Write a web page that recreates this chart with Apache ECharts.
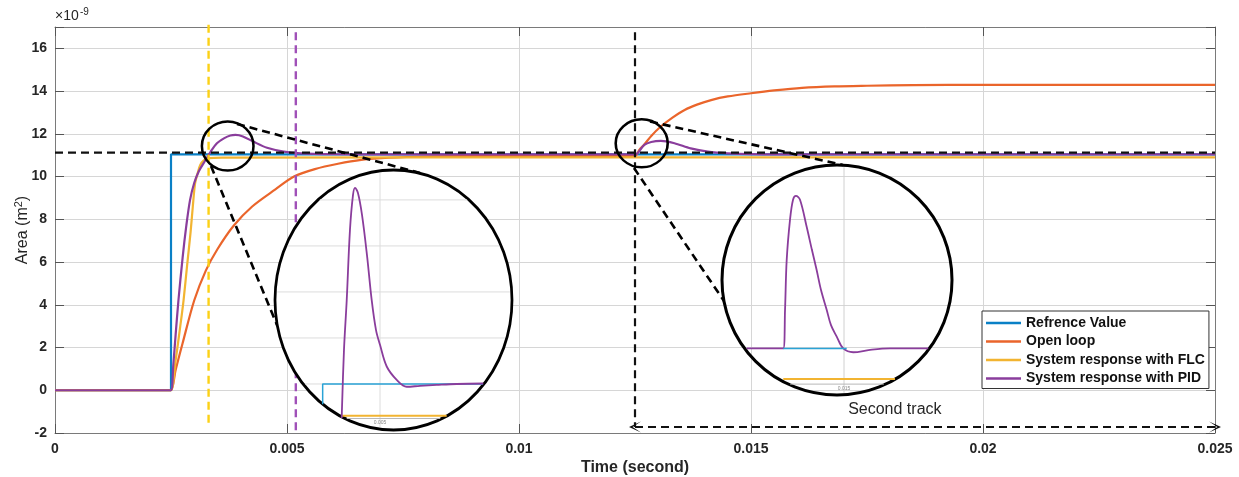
<!DOCTYPE html>
<html>
<head>
    <meta charset="utf-8">
    <title>Area response</title>
    <script src="https://cdn.jsdelivr.net/npm/echarts@6/dist/echarts.min.js"></script>
</head>
<body style="margin:0">
    <div id="main" style="width:1239px;height:477px;"></div>
    <script type="text/javascript">
        // tick values of the main axes (area in 1e-9 m^2, time in s)
        var xTicks = [0, 0.005, 0.01, 0.015, 0.02, 0.025]
        var xTickLabels = ["0", "0.005", "0.01", "0.015", "0.02", "0.025"]
        var yTicks = [-2, 0, 2, 4, 6, 8, 10, 12, 14, 16]

        // curves: [time, area]
        var referenceValue = [[0, 0], [0.0025, 0], [0.0025, 11.04], [0.025, 11.04]]
        var openLoop = [
            [0, 0], [0.0024, 0], [0.0025, 0], [0.0026, 0.95], [0.00275, 2.2], [0.003, 4.2], [0.00325, 5.6], [0.0035, 6.6],
            [0.00385, 7.7], [0.00425, 8.6], [0.00475, 9.4], [0.00515, 10.0], [0.0056, 10.35], [0.0061, 10.6],
            [0.0066, 10.78], [0.0072, 10.88], [0.008, 10.94], [0.009, 10.96], [0.01, 10.97], [0.0124, 10.97], [0.0125, 10.97],
            [0.0126, 11.27], [0.0127, 11.5], [0.01285, 11.9], [0.01305, 12.33], [0.0133, 12.75], [0.01357, 13.12],
            [0.01385, 13.38], [0.01414, 13.58], [0.0145, 13.75], [0.015, 13.9], [0.0155, 14.03], [0.0161, 14.15],
            [0.0168, 14.22], [0.0175, 14.25], [0.0185, 14.28], [0.02, 14.29], [0.025, 14.29]
        ]
        var flcResponse = [
            [0, 0], [0.0024, 0], [0.0025, 0], [0.0026, 1.4], [0.0027, 3.0], [0.00277, 4.2], [0.00285, 5.9], [0.00292, 7.35],
            [0.00297, 8.6], [0.00302, 9.69], [0.00308, 10.2], [0.00313, 10.54], [0.0032, 10.75], [0.00331, 10.86],
            [0.0036, 10.89], [0.0125, 10.9], [0.025, 10.9]
        ]
        var pidResponse = [
            [0, 0], [0.0024, 0], [0.0025, 0], [0.00255, 1.2], [0.0026, 2.6], [0.00266, 4.2], [0.00275, 6.2], [0.00283, 7.7],
            [0.00291, 8.9], [0.003, 9.7], [0.0031, 10.25], [0.0032, 10.62], [0.00335, 11.15], [0.00349, 11.56],
            [0.00365, 11.8], [0.00378, 11.92], [0.00389, 11.95], [0.00405, 11.88], [0.00428, 11.63], [0.00457, 11.35],
            [0.00493, 11.17], [0.00529, 11.09], [0.006, 11.05], [0.007, 11.04], [0.0124, 11.04], [0.0125, 11.04],
            [0.01256, 11.1], [0.0127, 11.48], [0.01285, 11.62], [0.01306, 11.67], [0.01335, 11.56], [0.0137, 11.32],
            [0.01407, 11.17], [0.0145, 11.09], [0.015, 11.05], [0.016, 11.04], [0.025, 11.04]
        ]

        // dashed guide lines
        var targetLine = [[0, 11.12], [0.025, 11.12]]
        var flcMarker = [[0.00331, 17.1], [0.00331, -1.7]]
        var pidMarker = [[0.00519, 16.75], [0.00519, -2]]
        var trackMarker = [[0.0125, 16.75], [0.0125, -1.72]]
        var secondTrack = [[0.0125, -1.72], [0.025, -1.72]]
        var secondTrackLabel = [0.0181, -0.92]

        // magnified views (inset axes)
        var inset1Pid = [
            [0.004635, 10.926], [0.004657, 11.074], [0.004683, 11.182], [0.004714, 11.335], [0.004743, 11.411],
            [0.004762, 11.426], [0.00479, 11.415], [0.004829, 11.367], [0.004876, 11.28], [0.004921, 11.182],
            [0.004962, 11.117], [0.005, 11.085], [0.005064, 11.038], [0.005159, 11.009], [0.005254, 10.994],
            [0.005381, 10.996], [0.00554, 10.998], [0.00573, 11.0], [0.005984, 11.001]
        ]
        var inset1Ref = [[0.004454, 10.956], [0.004454, 11.0], [0.00598, 11.0]]
        var inset1Flc = [[0.004638, 10.931], [0.005635, 10.931]]
        var inset1Grid = [11.0, 11.1, 11.2, 11.3, 11.4]
        var inset1Tick = 0.005

        var inset2Pid = [
            [0.014064, 11.0], [0.014416, 11.0], [0.014433, 11.081], [0.014449, 11.186], [0.014481, 11.271],
            [0.01451, 11.313], [0.014538, 11.321], [0.014577, 11.313], [0.014641, 11.256], [0.014692, 11.207],
            [0.014737, 11.165], [0.014779, 11.123], [0.014834, 11.081], [0.014875, 11.049], [0.01493, 11.025],
            [0.014993, 11.0], [0.015089, 10.992], [0.01525, 10.997], [0.015442, 11.0], [0.01581, 11.0]
        ]
        var inset2Ref = [[0.014416, 11.0], [0.015026, 11.0]]
        var inset2Flc = [[0.014416, 10.936], [0.01549, 10.936]]
        var inset2Tick = 0.015
        var insetAxisLevel = 10.925

        var FONT = "'Liberation Sans', Arial, sans-serif"
        var C_REF = "#0a80c6", C_OPEN = "#ea652b", C_FLC = "#f2b431", C_PID = "#8a3d9c"

        var myChart = echarts.init(document.getElementById("main"))

        function lineSeries(name, data, color, opts) {
            var s = {
                name: name, type: "line", data: data, symbol: "none", showSymbol: false, color: color,
                lineStyle: { color: color, width: 2.2 }, animation: false
            }
            for (var k in opts) s[k] = opts[k]
            return s
        }
        function dashed(name, data, color, width, extra) {
            var s = {
                name: name, type: "line", data: data, symbol: "none", silent: true, clip: false, z: 4,
                lineStyle: { color: color, width: width, type: [8, 5] }, animation: false
            }
            for (var k in extra) s[k] = extra[k]
            return s
        }

        var arrowHead = "path://M0,10L5,0L10,10L5,3Z"
        var mainAxisLine = { onZero: false, lineStyle: { color: "#7a7a7a", width: 1 } }
        var mainTick = { inside: true, length: 9, lineStyle: { color: "#555" } }

        var option = {
            animation: false,
            backgroundColor: "#fff",
            grid: [
                { left: 55, right: 24, top: 27, bottom: 44, outerBoundsMode: "none", containLabel: false },
                { left: 275, top: 170, width: 210, height: 260, outerBoundsMode: "none", containLabel: false },
                { left: 740, top: 165, width: 208, height: 231, outerBoundsMode: "none", containLabel: false }
            ],
            legend: {
                data: ["Refrence Value", "Open loop", "System response with FLC", "System response with PID"],
                orient: "vertical", left: 982, top: 311, icon: "rect",
                padding: [4, 4, 2, 4], itemGap: 2.5, itemWidth: 35, itemHeight: 2.5,
                borderColor: "#333", borderWidth: 1, backgroundColor: "#fff",
                textStyle: { fontFamily: FONT, fontSize: 14, fontWeight: "bold", color: "#111", lineHeight: 16 },
                z: 30
            },
            xAxis: [
                {
                    type: "value", gridIndex: 0, min: 0, max: 0.025, interval: 0.005,
                    name: "Time (second)", nameLocation: "middle", nameGap: 27, nameMoveOverlap: false,
                    nameTextStyle: { fontFamily: FONT, fontSize: 16, fontWeight: "bold", color: "#262626" },
                    axisLine: mainAxisLine, axisTick: mainTick,
                    axisLabel: {
                        margin: 9, fontFamily: FONT, fontSize: 14, fontWeight: "bold", color: "#262626",
                        formatter: function (v) {
                            for (var i = 0; i < xTicks.length; i++) if (Math.abs(v - xTicks[i]) < 1e-9) return xTickLabels[i]
                            return ""
                        }
                    },
                    splitLine: { lineStyle: { color: "#d6d6d6" } }
                },
                {
                    type: "value", gridIndex: 0, position: "top", min: 0, max: 0.025, interval: 0.005,
                    axisLine: mainAxisLine, axisTick: mainTick,
                    axisLabel: { show: false }, splitLine: { show: false }
                },
                { type: "value", gridIndex: 1, min: 0.004, max: 0.006, show: false, splitLine: { show: false } },
                { type: "value", gridIndex: 2, min: 0.014, max: 0.016, show: false, splitLine: { show: false } }
            ],
            yAxis: [
                {
                    type: "value", gridIndex: 0, min: -2, max: 17, interval: 2,
                    name: "Area (m{sup|2})", nameLocation: "middle", nameGap: 22, nameMoveOverlap: false,
                    nameTextStyle: {
                        fontFamily: FONT, fontSize: 16, color: "#262626", lineHeight: 20,
                        rich: { sup: { fontFamily: FONT, fontSize: 11, color: "#262626", verticalAlign: "top", lineHeight: 12 } }
                    },
                    axisLine: mainAxisLine, axisTick: mainTick,
                    axisLabel: {
                        margin: 8, fontFamily: FONT, fontSize: 14, fontWeight: "bold", color: "#262626",
                        formatter: function (v) {
                            for (var i = 0; i < yTicks.length; i++) if (Math.abs(v - yTicks[i]) < 1e-9) return String(yTicks[i])
                            return ""
                        }
                    },
                    splitLine: { lineStyle: { color: "#d6d6d6" } }
                },
                {
                    type: "value", gridIndex: 0, position: "right", min: -2, max: 17, interval: 2,
                    axisLine: mainAxisLine, axisTick: mainTick,
                    axisLabel: { show: false }, splitLine: { show: false }
                },
                { type: "value", gridIndex: 1, min: 10.9, max: 11.465, show: false, splitLine: { show: false } },
                { type: "value", gridIndex: 2, min: 10.9, max: 11.386, show: false, splitLine: { show: false } }
            ],
            series: [
                lineSeries("Refrence Value", referenceValue, C_REF, {}),
                lineSeries("Open loop", openLoop, C_OPEN, { smooth: 0.3 }),
                lineSeries("System response with FLC", flcResponse, C_FLC, { smooth: 0.3 }),
                lineSeries("System response with PID", pidResponse, C_PID, { smooth: 0.3 }),
                dashed("target", targetLine, "#111", 2.2, { clip: true }),
                dashed("flc marker", flcMarker, "#fcd116", 2.4),
                dashed("pid marker", pidMarker, "#a050b8", 2.4),
                dashed("track marker", trackMarker, "#111", 2.2),
                {
                    name: "second track", type: "line", silent: true, clip: false, z: 4, animation: false,
                    data: secondTrack.map(function (p, i) {
                        return { value: p, symbol: arrowHead, symbolSize: [11, 12], symbolRotate: i === 0 ? 90 : -90 }
                    }),
                    showAllSymbol: true,
                    itemStyle: { color: "#111" },
                    lineStyle: { color: "#111", width: 2.2, type: [8, 5] },
                    markPoint: {
                        silent: true, symbol: "rect", symbolSize: 1, itemStyle: { color: "rgba(0,0,0,0)" },
                        label: {
                            show: true, position: "inside", formatter: "Second track",
                            fontFamily: FONT, fontSize: 16, color: "#262626"
                        },
                        data: [{ coord: secondTrackLabel }]
                    }
                },
                // inset 1 (first step)
                lineSeries("i1 ref", inset1Ref, "#2aa3d6", { xAxisIndex: 2, yAxisIndex: 2, z: 22, lineStyle: { color: "#2aa3d6", width: 1.5 } }),
                lineSeries("i1 flc", inset1Flc, C_FLC, { xAxisIndex: 2, yAxisIndex: 2, z: 22, lineStyle: { color: C_FLC, width: 2 } }),
                lineSeries("i1 pid", inset1Pid, C_PID, { xAxisIndex: 2, yAxisIndex: 2, z: 22, smooth: 0.35, lineStyle: { color: C_PID, width: 1.8 } }),
                // inset 2 (second track)
                lineSeries("i2 pid", inset2Pid, C_PID, { xAxisIndex: 3, yAxisIndex: 3, z: 22, smooth: 0.35, lineStyle: { color: C_PID, width: 1.8 } }),
                lineSeries("i2 ref", inset2Ref, "#2aa3d6", { xAxisIndex: 3, yAxisIndex: 3, z: 22, lineStyle: { color: "#2aa3d6", width: 1.5 } }),
                lineSeries("i2 flc", inset2Flc, C_FLC, { xAxisIndex: 3, yAxisIndex: 3, z: 22, lineStyle: { color: C_FLC, width: 2 } })
            ]
        }
        myChart.setOption(option)

        // annotation layer: zoom circles, connectors, inset grid chords
        var bigEllipses = [
            { cx: 393.5, cy: 300, rx: 118.5, ry: 130, fill: "#fff" },
            { cx: 837, cy: 280, rx: 115, ry: 115, fill: "rgba(255,255,255,0)" }
        ]
        var smallCircles = [
            { cx: 227.7, cy: 146, rx: 25.8, ry: 24.5 },
            { cx: 641.7, cy: 143.3, rx: 26, ry: 24 }
        ]
        var connectors = [
            [237, 124, 420, 173], [211, 166, 277, 325],
            [650, 121.5, 843, 165], [634, 168, 724, 301]
        ]

        function ellipse(e, lw, fill, z) {
            return {
                type: "circle", silent: true, z: z, x: e.cx, y: e.cy, scaleX: e.rx / e.ry,
                shape: { cx: 0, cy: 0, r: e.ry },
                style: { fill: fill, stroke: "#000", lineWidth: lw, strokeNoScale: true }
            }
        }
        function hChord(e, y, pad) {
            var h = e.rx * Math.sqrt(Math.max(0, 1 - Math.pow((y - e.cy) / e.ry, 2))) - pad
            return { x1: e.cx - h, y1: y, x2: e.cx + h, y2: y }
        }
        function vChord(e, x, pad) {
            var h = e.ry * Math.sqrt(Math.max(0, 1 - Math.pow((x - e.cx) / e.rx, 2))) - pad
            return { x1: x, y1: e.cy - h, x2: x, y2: e.cy + h }
        }
        function chordEl(shape, color) {
            return { type: "line", silent: true, z: 21, shape: shape, style: { stroke: color, lineWidth: 1 } }
        }

        var els = []
        els.push(ellipse(bigEllipses[0], 3, bigEllipses[0].fill, 20))
        els.push(ellipse(bigEllipses[1], 3, bigEllipses[1].fill, 20))
        smallCircles.forEach(function (c) { els.push(ellipse(c, 2.4, "rgba(255,255,255,0)", 25)) })
        connectors.forEach(function (s) {
            els.push({
                type: "line", silent: true, z: 25, shape: { x1: s[0], y1: s[1], x2: s[2], y2: s[3] },
                style: { stroke: "#000", lineWidth: 2.6, lineDash: [8, 5] }
            })
        })

        // inset 1 grid lines and axis
        inset1Grid.forEach(function (v) {
            var py = myChart.convertToPixel({ yAxisIndex: 2 }, v)
            els.push(chordEl(hChord(bigEllipses[0], py, 2), "#dcdcdc"))
        })
        var t1 = myChart.convertToPixel({ xAxisIndex: 2, yAxisIndex: 2 }, [inset1Tick, insetAxisLevel])
        els.push(chordEl(vChord(bigEllipses[0], t1[0], 2), "#dcdcdc"))
        els.push(chordEl(hChord(bigEllipses[0], t1[1], 2), "#b8b8b8"))
        els.push({
            type: "text", silent: true, z: 21, x: t1[0], y: t1[1] + 2,
            style: { text: "0.005", fontSize: 5, fontFamily: FONT, fill: "#888", align: "center", verticalAlign: "top" }
        })
        // inset 2 axis
        var t2 = myChart.convertToPixel({ xAxisIndex: 3, yAxisIndex: 3 }, [inset2Tick, insetAxisLevel])
        els.push(chordEl(vChord(bigEllipses[1], t2[0], 2), "#d0d0d0"))
        els.push(chordEl(hChord(bigEllipses[1], t2[1], 2), "#b8b8b8"))
        els.push({
            type: "text", silent: true, z: 21, x: t2[0], y: t2[1] + 2,
            style: { text: "0.015", fontSize: 5, fontFamily: FONT, fill: "#888", align: "center", verticalAlign: "top" }
        })

        // exponent of the y axis
        els.push({ type: "text", silent: true, x: 55, y: 23, style: { text: "\u00d710", fontSize: 14, fontFamily: FONT, fill: "#262626", verticalAlign: "bottom" } })
        els.push({ type: "text", silent: true, x: 80, y: 7, style: { text: "-9", fontSize: 10, fontFamily: FONT, fill: "#262626", verticalAlign: "top" } })

        myChart.setOption({ graphic: { elements: els } })
    </script>
</body>
</html>
